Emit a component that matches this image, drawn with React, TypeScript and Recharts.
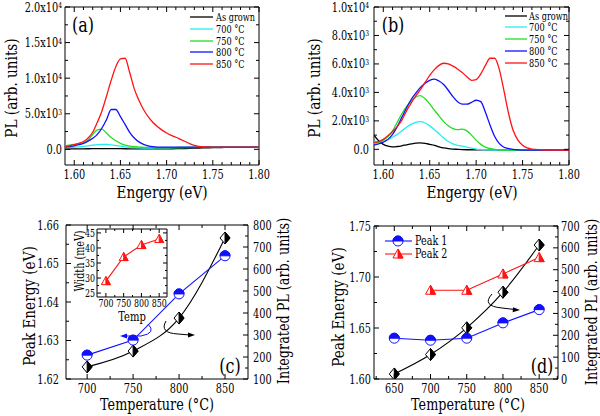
import React from 'react';
import { LineChart, Line, XAxis, YAxis, ReferenceArea } from 'recharts';

const FONT = '"DejaVu Serif", "Liberation Serif", "Times New Roman", serif';

// photon energy grid of the PL spectra (eV)
const energy = [
  1.59, 1.595, 1.6, 1.605, 1.61, 1.615, 1.62, 1.625, 1.63, 1.635,
  1.64, 1.645, 1.65, 1.655, 1.66, 1.665, 1.67, 1.675, 1.68, 1.685,
  1.69, 1.695, 1.7, 1.705, 1.71, 1.715, 1.72, 1.725, 1.73, 1.735,
  1.74, 1.745, 1.75, 1.755, 1.76, 1.77, 1.78, 1.79, 1.8,
];

const seriesNames = ['As grown', '700 °C', '750 °C', '800 °C', '850 °C'];
const seriesKeys = ['g', 't700', 't750', 't800', 't850'];
const seriesColors = ['#000000', '#22eeee', '#22dd22', '#1010ff', '#ff1414'];

// (a)
const aAsGrown = [
  50, 50, 60, 60, 70, 80, 90, 100, 110, 110, 110, 100, 90, 80, 70, 60, 60, 60, 60, 60,
  60, 60, 70, 80, 90, 100, 120, 140, 160, 180, 200, 220, 240, 250, 260, 270, 280, 290, 300,
];
const a700 = [
  200, 250, 300, 360, 420, 500, 590, 670, 700, 690, 630, 540, 440, 350, 280, 230, 200, 190, 190, 190,
  200, 200, 210, 220, 230, 240, 250, 260, 270, 280, 290, 300, 300, 300, 300, 300, 300, 300, 300,
];
const a750 = [
  500, 600, 700, 800, 900, 1300, 2100, 2750, 2850, 2250, 1650, 1200, 850, 600, 450, 380, 320, 290, 270, 260,
  250, 250, 250, 250, 250, 260, 270, 280, 290, 300, 300, 300, 300, 300, 300, 300, 300, 300, 300,
];
const a800 = [
  300, 400, 500, 650, 850, 1150, 1550, 2100, 3000, 4200, 5600, 5600, 4600, 3500, 2400, 1600, 1050, 700, 500, 380,
  320, 300, 300, 300, 300, 300, 300, 300, 300, 300, 300, 300, 300, 300, 300, 300, 300, 300, 300,
];
const a850 = [
  400, 500, 650, 850, 1100, 1600, 2400, 3800, 5400, 7500, 9700, 11600, 12700, 12800, 10800, 8500, 6900, 5600, 4600, 3800,
  3200, 2700, 2300, 1950, 1700, 1400, 1100, 800, 550, 420, 350, 330, 320, 310, 300, 300, 300, 300, 300,
];

// (b)
const bAsGrown = [
  1000, 600, 350, 220, 170, 200, 250, 320, 380, 430, 450, 420, 350, 280, 180, 100, 50, 20, 0, -20,
  -30, -30, -30, -40, -40, -40, -40, -50, -50, -50, -50, -50, -50, -50, -50, -50, -50, -50, -50,
];
const b700 = [
  550, 520, 560, 680, 850, 1050, 1300, 1550, 1750, 1900, 1950, 1850, 1650, 1400, 1100, 800, 550, 380, 280, 220,
  160, 80, 20, -10, -30, -40, -50, -50, -50, -50, -50, -50, -50, -50, -50, -50, -50, -50, -50,
];
const b750 = [
  400, 500, 650, 900, 1300, 1900, 2500, 3000, 3400, 3680, 3780, 3550, 3200, 2750, 2350, 1950, 1650, 1450, 1380, 1420,
  1300, 1000, 650, 350, 160, 60, 0, -30, -50, -50, -50, -50, -50, -50, -50, -50, -50, -50, -50,
];
const b800 = [
  300, 380, 500, 700, 1050, 1600, 2250, 2900, 3500, 3950, 4350, 4650, 4850, 4930, 4800, 4550, 4150, 3700, 3350, 3180,
  3170, 3300, 3450, 3350, 2600, 1700, 900, 400, 150, 50, 0, -30, -50, -50, -50, -50, -50, -50, -50,
];
const b850 = [
  500, 550, 700, 950, 1250, 1600, 2050, 2700, 3250, 3750, 4200, 4700, 5200, 5600, 5900, 6050, 6000, 5850, 5650, 5400,
  5100, 4850, 4900, 5300, 5900, 6400, 6400, 5600, 4100, 2500, 1300, 650, 280, 100, 20, -30, -50, -50, -50,
];

// (c)
const cTemps = [700, 750, 800, 850];
const cPeakEnergy = [1.6262, 1.6301, 1.6421, 1.652];
const cIntegrated = [155, 227, 377, 741];
const cWidth = [29, 37, 41, 43];

// (d)
const dTemps = [650, 700, 750, 800, 850];
const dPeak1 = [1.64, 1.638, 1.64, 1.655, 1.668];
const dPeak2 = [null, 1.687, 1.687, 1.703, 1.719];
const dIntegrated = [23, 112, 234, 397, 613];
const dNames = ['Peak 1', 'Peak 2'];

function range(a: number, b: number, step: number) {
  const out: number[] = [];
  for (let v = a; v <= b + step * 1e-6; v += step) out.push(+v.toFixed(6));
  return out;
}

function spectraRows(vals: number[][]) {
  return energy.map((e, i) => {
    const row: any = { e };
    seriesKeys.forEach((k, j) => (row[k] = vals[j][i]));
    return row;
  });
}

const aRows = spectraRows([aAsGrown, a700, a750, a800, a850]);
const bRows = spectraRows([bAsGrown, b700, b750, b800, b850]);
const cRows = cTemps.map((t, i) => ({ t, pe: cPeakEnergy[i], ipl: cIntegrated[i], w: cWidth[i] }));
const dRows = dTemps.map((t, i) => ({ t, p1: dPeak1[i], p2: dPeak2[i], ipl: dIntegrated[i] }));

const sci = (v: number) => {
  if (v === 0) return '0.0';
  const ex = Math.floor(Math.log10(v) + 1e-9);
  const m = (v / Math.pow(10, ex)).toFixed(1);
  return (
    <>
      <tspan>{m}x10</tspan>
      <tspan dy="-0.45em" fontSize="0.62em">{ex}</tspan>
    </>
  );
};

type TickCfg = {
  side: 'bottom' | 'left' | 'right';
  majors: number[];
  fmt: (v: number) => React.ReactNode;
  far?: number;
  gap: number;
  size: number;
  sx: number;
  len?: number;
  minor?: number;
};

function makeTick(c: TickCfg) {
  return (props: any) => {
    const { x, y, payload } = props;
    const v = payload.value;
    const major = c.majors.some((m) => Math.abs(m - v) < 1e-9);
    const L = major ? c.len ?? 5 : c.minor ?? 3;
    const s = { stroke: '#000', strokeWidth: 1 };
    const txt = (anchor: string, dy: string) => (
      <text textAnchor={anchor} dy={dy} fontSize={c.size} style={{ fontFamily: FONT }} fill="#000">
        {c.fmt(v)}
      </text>
    );
    if (c.side === 'bottom') {
      return (
        <g>
          <line x1={x} x2={x} y1={y} y2={y - L} {...s} />
          {c.far != null && <line x1={x} x2={x} y1={c.far} y2={c.far + L} {...s} />}
          {major && <g transform={`translate(${x},${y + c.gap}) scale(${c.sx},1)`}>{txt('middle', '0')}</g>}
        </g>
      );
    }
    if (c.side === 'left') {
      return (
        <g>
          <line x1={x} x2={x + L} y1={y} y2={y} {...s} />
          {c.far != null && <line x1={c.far} x2={c.far - L} y1={y} y2={y} {...s} />}
          {major && <g transform={`translate(${x - c.gap},${y}) scale(${c.sx},1)`}>{txt('end', '0.35em')}</g>}
        </g>
      );
    }
    return (
      <g>
        <line x1={x} x2={x - L} y1={y} y2={y} {...s} />
        {major && <g transform={`translate(${x + c.gap},${y}) scale(${c.sx},1)`}>{txt('start', '0.35em')}</g>}
      </g>
    );
  };
}

function HalfCircle({ cx, cy, color, r = 5 }: any) {
  if (cx == null || cy == null) return <g />;
  return (
    <g>
      <circle cx={cx} cy={cy} r={r} fill="#fff" stroke={color} strokeWidth={1} />
      <path d={`M${cx - r},${cy} A${r},${r} 0 0 1 ${cx + r},${cy} Z`} fill={color} stroke={color} strokeWidth={1} />
    </g>
  );
}

function HalfDiamond({ cx, cy, color, w = 5, h = 6 }: any) {
  if (cx == null || cy == null) return <g />;
  return (
    <g>
      <polygon points={`${cx},${cy - h} ${cx + w},${cy} ${cx},${cy + h} ${cx - w},${cy}`} fill="#fff" stroke={color} strokeWidth={1} />
      <polygon points={`${cx},${cy - h} ${cx + w},${cy} ${cx},${cy + h}`} fill={color} stroke={color} strokeWidth={1} />
    </g>
  );
}

function HalfTriangle({ cx, cy, color, s = 5 }: any) {
  if (cx == null || cy == null) return <g />;
  return (
    <g>
      <polygon points={`${cx},${cy - s} ${cx + s},${cy + s * 0.8} ${cx - s},${cy + s * 0.8}`} fill="#fff" stroke={color} strokeWidth={1} />
      <polygon points={`${cx},${cy - s} ${cx + s},${cy + s * 0.8} ${cx},${cy + s * 0.8}`} fill={color} stroke={color} strokeWidth={1} />
    </g>
  );
}

const dotOf = (Shape: any, color: string, extra: any = {}) => (p: any) =>
  <Shape key={`d${p.index}`} cx={p.cx} cy={p.cy} color={color} {...extra} />;

function T({ x, y, size, sx = 0.8, rotate = 0, anchor = 'middle', children }: any) {
  return (
    <g transform={`translate(${x},${y}) rotate(${rotate}) scale(${sx},1)`}>
      <text textAnchor={anchor} dy="0.35em" fontSize={size} style={{ fontFamily: FONT }} fill="#000">
        {children}
      </text>
    </g>
  );
}

const box = (left: number, top: number): React.CSSProperties => ({ position: 'absolute', left, top });

function SpectraPanel({ rows, left, yDomain, yTicks, yMajors, yWidth, right, gapY }: any) {
  const w = 300;
  const h = 208;
  const top = 7;
  const plotRight = w - right;
  const xTicks = range(1.6, 1.8, 0.01);
  const xMajors = range(1.6, 1.8, 0.05);
  return (
    <div style={box(left, 0)}>
      <LineChart width={w} height={h} data={rows} margin={{ top, right, bottom: 0, left: 0 }}>
        <XAxis
          dataKey="e" type="number" domain={[1.59, 1.8]} allowDataOverflow ticks={xTicks} interval={0}
          height={43} tickSize={0} tickMargin={0} axisLine={false} tickLine={false}
          tick={makeTick({ side: 'bottom', majors: xMajors, fmt: (v) => v.toFixed(2), far: top, gap: 14, size: 13, sx: 0.75 })}
        />
        <YAxis
          type="number" domain={yDomain} allowDataOverflow ticks={yTicks} interval={0}
          width={yWidth} tickSize={0} tickMargin={0} axisLine={false} tickLine={false}
          tick={makeTick({ side: 'left', majors: yMajors, fmt: sci, far: plotRight, gap: gapY, size: 13, sx: 0.75 })}
        />
        <ReferenceArea x1={1.59} x2={1.8} y1={yDomain[0]} y2={yDomain[1]} fill="none" stroke="#000" strokeWidth={1} ifOverflow="visible" />
        {seriesKeys.map((k, i) => (
          <Line key={k} dataKey={k} type="monotone" stroke={seriesColors[i]} strokeWidth={1.3} dot={false} isAnimationActive={false} />
        ))}
      </LineChart>
    </div>
  );
}

function PanelC() {
  const top = 17;
  const xTicks = range(700, 850, 25);
  const xMajors = range(700, 850, 50);
  return (
    <div style={box(0, 208)}>
      <LineChart width={300} height={208} data={cRows} margin={{ top, right: 0, bottom: 0, left: 0 }}>
        <XAxis
          dataKey="t" type="number" domain={[677, 875]} allowDataOverflow ticks={xTicks} interval={0}
          height={37} tickSize={0} tickMargin={0} axisLine={false} tickLine={false}
          tick={makeTick({ side: 'bottom', majors: xMajors, fmt: (v) => String(v), far: top, gap: 14, size: 13, sx: 0.75 })}
        />
        <YAxis
          yAxisId="l" type="number" domain={[1.62, 1.66]} allowDataOverflow ticks={range(1.62, 1.66, 0.005)} interval={0}
          width={66} tickSize={0} tickMargin={0} axisLine={false} tickLine={false}
          tick={makeTick({ side: 'left', majors: range(1.62, 1.66, 0.01), fmt: (v) => v.toFixed(2), gap: 7, size: 13, sx: 0.75 })}
        />
        <YAxis
          yAxisId="r" orientation="right" type="number" domain={[100, 800]} allowDataOverflow ticks={range(100, 800, 50)} interval={0}
          width={52} tickSize={0} tickMargin={0} axisLine={false} tickLine={false}
          tick={makeTick({ side: 'right', majors: range(100, 800, 100), fmt: (v) => String(v), gap: 5, size: 13, sx: 0.75 })}
        />
        <ReferenceArea yAxisId="l" x1={677} x2={875} y1={1.62} y2={1.66} fill="none" stroke="#000" strokeWidth={1} ifOverflow="visible" />
        <Line yAxisId="r" dataKey="ipl" type="monotone" stroke="#000" strokeWidth={1.1} dot={dotOf(HalfDiamond, '#000')} isAnimationActive={false} />
        <Line yAxisId="l" dataKey="pe" type="linear" stroke="#1010ff" strokeWidth={1.1} dot={dotOf(HalfCircle, '#1010ff')} isAnimationActive={false} />
      </LineChart>
    </div>
  );
}

function InsetC() {
  const top = 14;
  return (
    <div style={box(60, 215)}>
      <LineChart width={180} height={120} data={cRows} margin={{ top, right: 73, bottom: 0, left: 0 }}>
        <XAxis
          dataKey="t" type="number" domain={[675, 872]} allowDataOverflow ticks={range(700, 850, 25)} interval={0}
          height={38} tickSize={0} tickMargin={0} axisLine={false} tickLine={false}
          tick={makeTick({ side: 'bottom', majors: range(700, 850, 50), fmt: (v) => String(v), far: top, gap: 10, size: 10.5, sx: 0.75, len: 4, minor: 2 })}
        />
        <YAxis
          type="number" domain={[23.7, 46.3]} allowDataOverflow ticks={range(25, 45, 2.5)} interval={0}
          width={37} tickSize={0} tickMargin={0} axisLine={false} tickLine={false}
          tick={makeTick({ side: 'left', majors: range(25, 45, 5), fmt: (v) => String(v), far: 107, gap: 2, size: 10.5, sx: 0.75, len: 4, minor: 2 })}
        />
        <ReferenceArea x1={675} x2={872} y1={23.7} y2={46.3} fill="none" stroke="#000" strokeWidth={1} ifOverflow="visible" />
        <Line dataKey="w" type="linear" stroke="#ff1414" strokeWidth={1.1} dot={dotOf(HalfTriangle, '#ff1414', { s: 4.5 })} isAnimationActive={false} />
      </LineChart>
    </div>
  );
}

function PanelD() {
  const top = 18;
  return (
    <div style={box(300, 208)}>
      <LineChart width={300} height={208} data={dRows} margin={{ top, right: 0, bottom: 0, left: 0 }}>
        <XAxis
          dataKey="t" type="number" domain={[622, 876]} allowDataOverflow ticks={range(625, 875, 25)} interval={0}
          height={37} tickSize={0} tickMargin={0} axisLine={false} tickLine={false}
          tick={makeTick({ side: 'bottom', majors: range(650, 850, 50), fmt: (v) => String(v), far: top, gap: 14, size: 13, sx: 0.75 })}
        />
        <YAxis
          yAxisId="l" type="number" domain={[1.6, 1.75]} allowDataOverflow ticks={range(1.6, 1.75, 0.025)} interval={0}
          width={74} tickSize={0} tickMargin={0} axisLine={false} tickLine={false}
          tick={makeTick({ side: 'left', majors: range(1.6, 1.75, 0.05), fmt: (v) => v.toFixed(2), gap: 3, size: 13, sx: 0.75 })}
        />
        <YAxis
          yAxisId="r" orientation="right" type="number" domain={[0, 700]} allowDataOverflow ticks={range(0, 700, 50)} interval={0}
          width={42} tickSize={0} tickMargin={0} axisLine={false} tickLine={false}
          tick={makeTick({ side: 'right', majors: range(0, 700, 100), fmt: (v) => String(v), gap: 3, size: 13, sx: 0.75 })}
        />
        <ReferenceArea yAxisId="l" x1={622} x2={876} y1={1.6} y2={1.75} fill="none" stroke="#000" strokeWidth={1} ifOverflow="visible" />
        <Line yAxisId="r" dataKey="ipl" type="monotone" stroke="#000" strokeWidth={1.1} dot={dotOf(HalfDiamond, '#000')} isAnimationActive={false} />
        <Line yAxisId="l" dataKey="p1" type="linear" stroke="#1010ff" strokeWidth={1.1} dot={dotOf(HalfCircle, '#1010ff')} isAnimationActive={false} />
        <Line yAxisId="l" dataKey="p2" type="linear" stroke="#ff1414" strokeWidth={1.1} dot={dotOf(HalfTriangle, '#ff1414')} isAnimationActive={false} />
      </LineChart>
    </div>
  );
}

function Overlay() {
  const aRowsY = [17, 29, 41, 52, 64];
  const bRowsY = [16, 27, 39, 51, 63];
  return (
    <svg width={600} height={416} style={{ position: 'absolute', left: 0, top: 0, pointerEvents: 'none' }}>
      {/* axis titles */}
      <T x={11} y={88} size={17} rotate={-90}>PL (arb. units)</T>
      <T x={162} y={192} size={17}>Engergy (eV)</T>
      <T x={314} y={88} size={17} rotate={-90}>PL (arb. units)</T>
      <T x={472} y={192} size={17}>Engergy (eV)</T>
      <T x={29} y={306} size={17} rotate={-90}>Peak Energy (eV)</T>
      <T x={283} y={301} size={16} rotate={-90}>Integrated PL (arb. units)</T>
      <T x={157} y={404} size={16}>Temperature (°C)</T>
      <T x={338} y={307} size={17} rotate={-90}>Peak Energy (eV)</T>
      <T x={591} y={302} size={16} rotate={-90}>Integrated PL (arb. units)</T>
      <T x={468} y={404} size={16}>Temperature (°C)</T>
      {/* inset titles */}
      <T x={80} y={261} size={12} rotate={-90}>Width (meV)</T>
      <T x={132} y={317} size={12.5}>Temp</T>
      {/* panel tags */}
      <T x={83} y={25} size={20}>(a)</T>
      <T x={393} y={25} size={20}>(b)</T>
      <T x={230} y={366} size={20}>(c)</T>
      <T x={542} y={366} size={20}>(d)</T>
      {/* legends (a) and (b) */}
      {seriesNames.map((n, i) => (
        <g key={`la${i}`}>
          <line x1={190} x2={213} y1={aRowsY[i]} y2={aRowsY[i]} stroke={seriesColors[i]} strokeWidth={1.3} />
          <T x={216} y={aRowsY[i]} size={10.5} sx={0.78} anchor="start">{n}</T>
          <line x1={505} x2={527} y1={bRowsY[i]} y2={bRowsY[i]} stroke={seriesColors[i]} strokeWidth={1.3} />
          <T x={529} y={bRowsY[i]} size={10.5} sx={0.78} anchor="start">{n}</T>
        </g>
      ))}
      {/* legend (d) */}
      <line x1={385} x2={412} y1={241} y2={241} stroke="#1010ff" strokeWidth={1.1} />
      <HalfCircle cx={398} cy={241} color="#1010ff" />
      <T x={415} y={241} size={12} anchor="start">{dNames[0]}</T>
      <line x1={385} x2={412} y1={254} y2={254} stroke="#ff1414" strokeWidth={1.1} />
      <HalfTriangle cx={398} cy={254} color="#ff1414" />
      <T x={415} y={254} size={12} anchor="start">{dNames[1]}</T>
      {/* axis pointers */}
      <path d="M148,324 Q157,333 141,336 L125,336" fill="none" stroke="#1010ff" strokeWidth={1} />
      <polygon points="120,336 127,333.5 127,338.5" fill="#1010ff" />
      <path d="M166,321 Q159,333 178,334 L190,335" fill="none" stroke="#000" strokeWidth={1} />
      <polygon points="195,335 188,332.5 188,337.5" fill="#000" />
      <path d="M492,294 Q481,306 502,308 L515,309.5" fill="none" stroke="#000" strokeWidth={1} />
      <polygon points="520,310 513,307.3 512.7,312.3" fill="#000" />
    </svg>
  );
}

export default function App() {
  return (
    <div style={{ position: 'absolute', left: 0, top: 0, width: 600, height: 416, background: '#fff', fontFamily: FONT }}>
      <SpectraPanel rows={aRows} left={0} yDomain={[-2200, 20000]} yTicks={range(0, 20000, 2500)} yMajors={range(0, 20000, 5000)} yWidth={65} right={41} gapY={3} />
      <SpectraPanel rows={bRows} left={300} yDomain={[-1100, 10000]} yTicks={range(0, 10000, 1000)} yMajors={range(0, 10000, 2000)} yWidth={74} right={31} gapY={5} />
      <PanelC />
      <InsetC />
      <PanelD />
      <Overlay />
    </div>
  );
}
